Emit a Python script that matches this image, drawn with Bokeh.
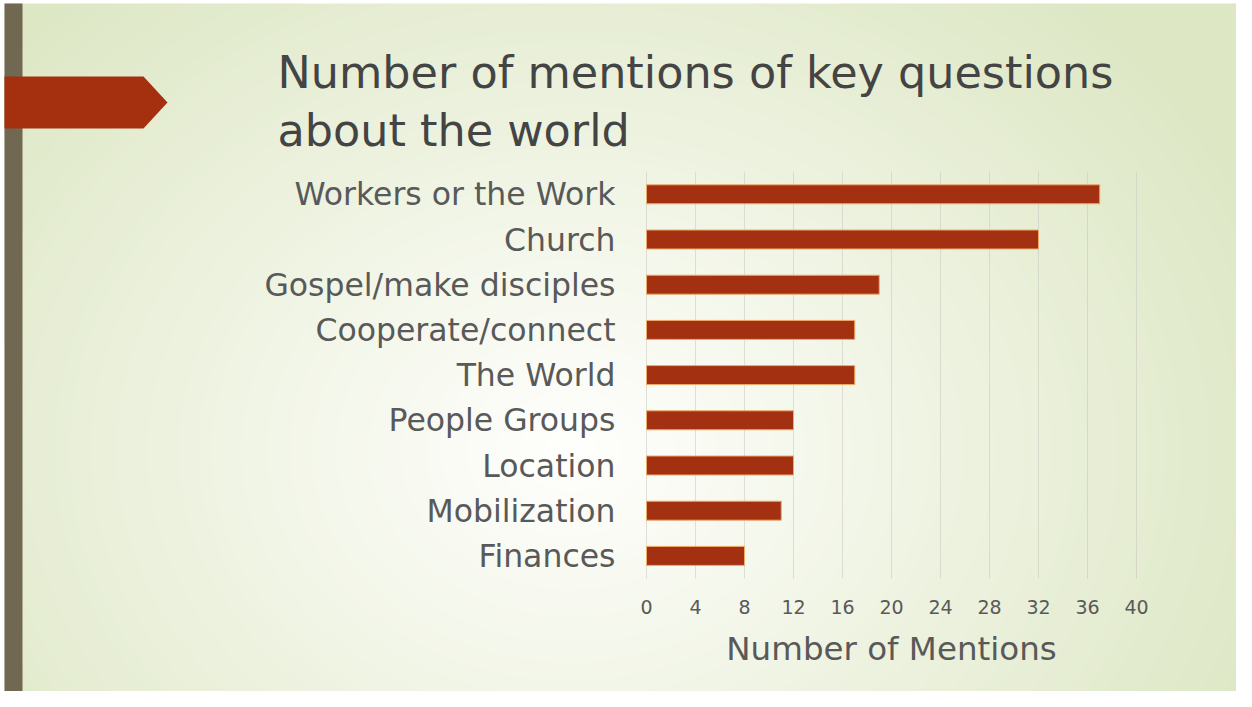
import numpy as np
from bokeh.plotting import figure
from bokeh.models import Range1d, LinearAxis, FixedTicker, Label
from bokeh.embed import file_html
from bokeh.resources import INLINE

# ---------------- data ----------------
categories = ["Workers or the Work", "Church", "Gospel/make disciples",
              "Cooperate/connect", "The World", "People Groups",
              "Location", "Mobilization", "Finances"]
mentions = [37, 32, 19, 17, 17, 12, 12, 11, 8]
x_ticks = [0, 4, 8, 12, 16, 20, 24, 28, 32, 36, 40]
title_lines = ["Number of mentions of key questions", "about the world"]
x_axis_title = "Number of Mentions"

# ---------------- layout (canvas pixels, measured from top-left) ----------------
W, H = 1236, 691
FONT = "DejaVu Sans"
x0_px, px_per_unit = 646.0, 12.25      # value 0 position and scale
row0_px, row_px = 193.8, 45.2          # first row centre (from top) and row pitch

p = figure(width=W, height=H, output_backend="svg", toolbar_location=None,
           x_range=Range1d(0, W), y_range=Range1d(0, H),
           x_axis_location=None, y_axis_location=None, min_border=0)
p.grid.visible = False
p.outline_line_color = None
p.background_fill_color = "white"
p.border_fill_color = "white"

p.extra_x_ranges = {"val": Range1d(-x0_px / px_per_unit, (W - x0_px) / px_per_unit)}
p.extra_y_ranges = {"rows": Range1d(start=(H - row0_px) / row_px, end=-row0_px / row_px)}

# ---------------- background gradient (slide) ----------------
LM, TM = 4, 3
BW, BH = W - LM, H - TM
yy, xx = np.mgrid[0:BH, 0:BW]
xs = xx + LM
ytop = (BH - 1 - yy).astype(float) + TM
cx, cy, rx, ry = 570.0, 450.0, 760.0, 620.0
d = np.sqrt(((xs - cx) / rx) ** 2 + ((ytop - cy) / ry) ** 2)
t = np.clip(d, 0, 1) ** 1.05
c0 = np.array([255, 255, 253], float)
c1 = np.array([221, 231, 196], float)
rgb = c0[None, None, :] * (1 - t[..., None]) + c1[None, None, :] * t[..., None]
img = np.empty((BH, BW), dtype=np.uint32)
view = img.view(dtype=np.uint8).reshape((BH, BW, 4))
view[..., 0] = rgb[..., 0].astype(np.uint8)
view[..., 1] = rgb[..., 1].astype(np.uint8)
view[..., 2] = rgb[..., 2].astype(np.uint8)
view[..., 3] = 255
p.image_rgba(image=[img], x=LM, y=0, dw=BW, dh=BH)

# ---------------- slide decorations ----------------
p.quad(left=LM, right=22, bottom=0, top=H - TM, fill_color="#716851", line_color=None)
p.patch(x=[LM, 143, 167, 143, LM], y=[H - 76, H - 76, H - 102, H - 128, H - 128],
        fill_color="#a5300f", line_color=None)

# ---------------- title ----------------
for i, line in enumerate(title_lines):
    p.add_layout(Label(x=277, y=H - (72 + 58 * i), text=line,
                       text_font=FONT, text_font_size="44.5px",
                       text_color="#444444", text_baseline="alphabetic"))

# ---------------- chart ----------------
n = len(categories)
rows = list(range(n))
p.segment(x0=x_ticks, x1=x_ticks, y0=-0.5, y1=n - 0.5,
          x_range_name="val", y_range_name="rows",
          line_color="#c8c8c0", line_alpha=0.55, line_width=1)
p.hbar(y=rows, left=0, right=mentions, height=0.42,
       x_range_name="val", y_range_name="rows",
       fill_color="#a33010", line_color="#eeaa6a", line_width=1)

xaxis = LinearAxis(x_range_name="val", y_range_name="rows",
                   ticker=FixedTicker(ticks=x_ticks),
                   bounds=(x_ticks[0], x_ticks[-1]),
                   fixed_location=n - 0.5, axis_label=x_axis_title)
xaxis.axis_line_color = None
xaxis.major_tick_line_color = None
xaxis.minor_tick_line_color = None
xaxis.major_label_standoff = 15
xaxis.major_label_text_font = FONT
xaxis.major_label_text_font_size = "19px"
xaxis.major_label_text_color = "#595959"
xaxis.axis_label_standoff = 13
xaxis.axis_label_text_font = FONT
xaxis.axis_label_text_font_size = "32.5px"
xaxis.axis_label_text_font_style = "normal"
xaxis.axis_label_text_color = "#595959"
p.add_layout(xaxis, "below")

yaxis = LinearAxis(x_range_name="val", y_range_name="rows",
                   ticker=FixedTicker(ticks=rows),
                   major_label_overrides={i: c for i, c in enumerate(categories)},
                   fixed_location=0)
yaxis.axis_line_color = None
yaxis.major_tick_line_color = None
yaxis.minor_tick_line_color = None
yaxis.major_label_standoff = 25
yaxis.major_label_text_font = FONT
yaxis.major_label_text_font_size = "31.5px"
yaxis.major_label_text_color = "#595959"
p.add_layout(yaxis, "left")

open("out.html", "w").write(file_html(p, INLINE))
